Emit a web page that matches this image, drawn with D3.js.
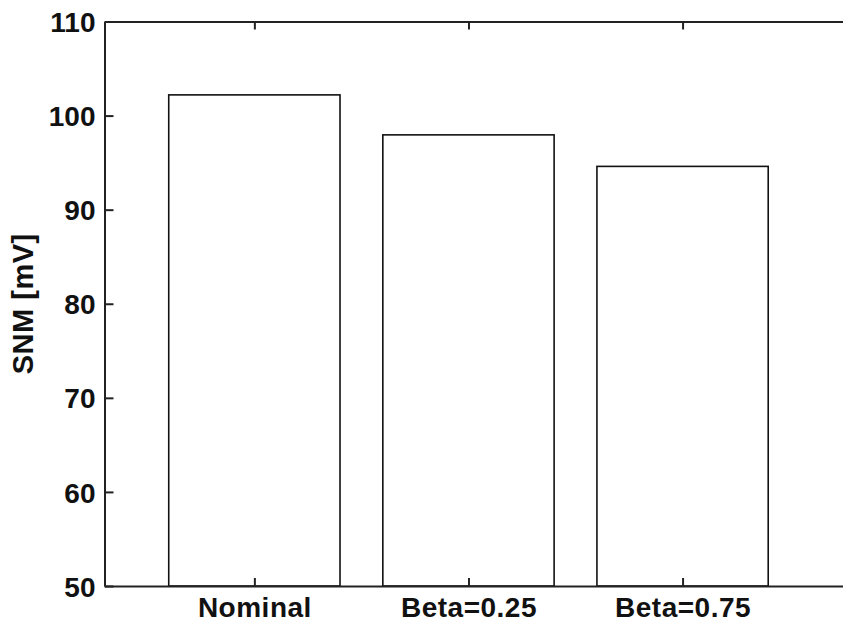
<!DOCTYPE html>
<html><head><meta charset="utf-8">
<script src="https://cdn.jsdelivr.net/npm/d3@7"></script>
<style>
html,body{margin:0;padding:0;background:#fff;}
svg{display:block;}
text{font-family:"Liberation Sans",Arial,Helvetica,sans-serif;font-weight:bold;fill:#111;}
</style></head><body>
<svg id="c" width="843" height="621"></svg>
<script>
const categories = ["Nominal", "Beta=0.25", "Beta=0.75"];
const values = [102.2, 97.95, 94.6];
const yTicks = [50, 60, 70, 80, 90, 100, 110];
const yLabel = "SNM [mV]";

const svg = d3.select("#c");
const x = d3.scaleLinear().domain([0.3, 3.8]).range([104.5, 104.5 + 3.5 * 214.1]);
const y = d3.scaleLinear().domain([50, 110]).range([586, 21.5]);
const barW = 0.8;
const stroke = "#222";

// bars
svg.append("g").selectAll("rect").data(values).join("rect")
  .attr("x", (d, i) => x(i + 1 - barW / 2))
  .attr("width", x(1 + barW / 2) - x(1 - barW / 2))
  .attr("y", d => y(d))
  .attr("height", d => y(50) - y(d))
  .attr("fill", "#fff").attr("stroke", "#111").attr("stroke-width", 1.6);

const pos = categories.map((c, i) => i + 1);

// left axis
const gl = svg.append("g").attr("transform", `translate(${x(0.3)},0)`)
  .call(d3.axisLeft(y).tickValues(yTicks).tickSizeInner(-9).tickSizeOuter(0).tickPadding(9));
// bottom axis
const gb = svg.append("g").attr("transform", `translate(0,${y(50)})`)
  .call(d3.axisBottom(x).tickValues(pos).tickFormat((d, i) => categories[i]).tickSizeInner(-8).tickSizeOuter(0).tickPadding(11));
// top axis
const gt = svg.append("g").attr("transform", `translate(0,${y(110)})`)
  .call(d3.axisTop(x).tickValues(pos).tickFormat("").tickSizeInner(-8).tickSizeOuter(0));

[gl, gb, gt].forEach(g => {
  g.selectAll(".domain").attr("stroke", stroke).attr("stroke-width", 2);
  g.selectAll(".tick line").attr("stroke", stroke).attr("stroke-width", 2);
  g.selectAll("text").attr("font-size", 28).attr("fill", "#111")
    .attr("font-family", '"Liberation Sans",Arial,sans-serif').attr("font-weight", "bold");
});
gl.selectAll("text").attr("dy", "0.36em");
gb.selectAll("text").attr("dy", "0.71em").attr("letter-spacing", 0.5);

svg.append("text")
  .attr("transform", `translate(33,${(y(50) + y(110)) / 2}) rotate(-90)`)
  .attr("text-anchor", "middle").attr("font-size", 29).attr("letter-spacing", 0.5).text(yLabel);
</script>
</body></html>
